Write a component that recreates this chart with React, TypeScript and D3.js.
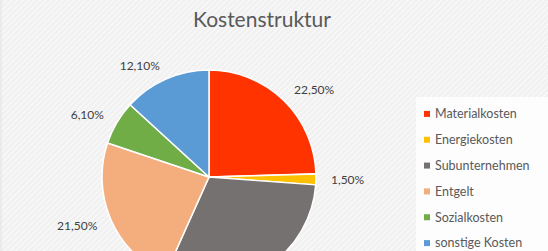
import React from "react";
import * as d3 from "d3";

const categories = ["Materialkosten", "Energiekosten", "Subunternehmen", "Entgelt", "Sozialkosten", "sonstige Kosten"];
const values = [22.5, 1.5, 28.0, 21.5, 6.1, 12.1];
const colors = ["#FF3300", "#FFC000", "#767171", "#F4AE7E", "#70AD47", "#5B9BD5"];

const W = 548, H = 251;
const cx = 209, cy = 177, R = 107;

const fmt = (v: number) => v.toFixed(2).replace(".", ",") + "%";

export default function App() {
  const pie = d3.pie<number>().sort(null).value((d) => d)(values);
  const arc = d3.arc<d3.PieArcDatum<number>>().innerRadius(0).outerRadius(R);
  const labelArc = d3.arc<d3.PieArcDatum<number>>().innerRadius(R + 15).outerRadius(R + 15);
  const legendY = d3.scaleBand<string>().domain(categories).range([101, 256]);
  return (
    <svg width={W} height={H} style={{ position: "absolute", left: 0, top: 0 }} fontFamily="Lato, 'Open Sans', sans-serif">
      <defs>
        <pattern id="hatch" width="4" height="4" patternUnits="userSpaceOnUse" patternTransform="rotate(45)">
          <rect width="4" height="4" fill="#f1f1f1" />
          <line x1="0" y1="0" x2="0" y2="4" stroke="#fbfbfb" strokeWidth="2" />
        </pattern>
      </defs>
      <rect width={W} height={H} fill="url(#hatch)" />
      <line x1={1} y1={0} x2={1} y2={H} stroke="#e2e2e2" />
      <text x={262} y={27} textAnchor="middle" fontSize={21} fill="#595959" fontFamily="Lato, 'Open Sans', sans-serif">Kostenstruktur</text>
      <g transform={`translate(${cx},${cy})`}>
        {pie.map((p, i) => (
          <path key={categories[i]} d={arc(p) || ""} fill={colors[i]} stroke="#ffffff" strokeWidth={1.5} />
        ))}
      </g>
      <g transform={`translate(${cx},${cy})`}>
        {pie.map((p, i) => {
          const [x, y] = labelArc.centroid(p);
          if (cy + y > H - 6) return null;
          const mid = (p.startAngle + p.endAngle) / 2;
          return (
            <text key={categories[i]} x={x} y={y} dy="0.35em" textAnchor={mid < Math.PI ? "start" : "end"} fontSize={12} fill="#404040">{fmt(values[i])}</text>
          );
        })}
      </g>
      <rect x={416} y={97} width={W - 416} height={H - 97} fill="#fdfdfd" />
      {categories.map((c, i) => {
        const y = (legendY(c) || 0) + legendY.bandwidth() / 2;
        return (
          <g key={c}>
            <rect x={424} y={y - 3} width={6} height={6} fill={colors[i]} />
            <text x={435} y={y} dy="0.35em" fontSize={12.5} fill="#595959">{c}</text>
          </g>
        );
      })}
    </svg>
  );
}
